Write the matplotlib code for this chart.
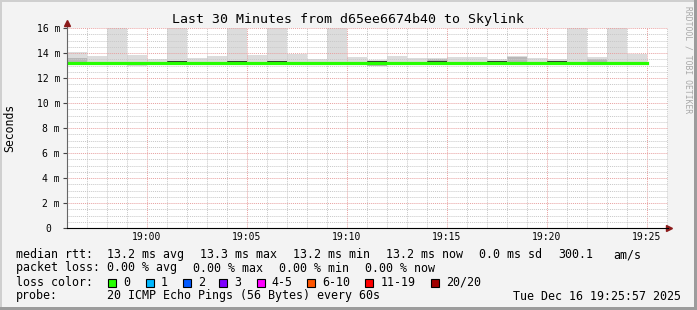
import matplotlib
matplotlib.use("Agg")
import matplotlib.pyplot as plt
from matplotlib.patches import Rectangle
from matplotlib.transforms import ScaledTranslation

# minutes relative to 19:00, one smoke bar per minute
minutes = list(range(-4, 25))
smoke_max = [14.05, 13.75, 16.9, 13.85, 13.55, 17.0, 13.6, 13.75, 16.5, 13.85,
             16.8, 13.95, 13.5, 16.6, 13.65, 13.45, 13.75, 13.6, 13.6, 13.65,
             13.65, 13.5, 13.75, 13.6, 13.5, 16.7, 13.65, 16.4, 13.9]
smoke_min = [13.1, 13.1, 13.1, 13.0, 13.1, 13.1, 13.1, 13.1, 13.05, 13.1,
             13.1, 13.1, 13.1, 13.1, 13.1, 13.0, 13.1, 13.05, 13.1, 13.1,
             13.1, 13.1, 13.05, 13.1, 13.1, 13.05, 13.1, 13.1, 13.1]
dense_lo = [13.25, 13.15, 13.15, 13.1, 13.15, 13.15, 13.15, 13.15, 13.1, 13.15,
            13.15, 13.15, 13.15, 13.15, 13.15, 13.0, 13.15, 13.1, 13.25, 13.15,
            13.15, 13.15, 13.25, 13.15, 13.15, 13.1, 13.3, 13.15, 13.15]
dense_hi = [13.62, 13.3, 13.3, 13.3, 13.3, 13.3, 13.3, 13.3, 13.3, 13.3,
            13.3, 13.3, 13.3, 13.3, 13.3, 13.3, 13.3, 13.3, 13.55, 13.3,
            13.3, 13.3, 13.7, 13.3, 13.3, 13.3, 13.5, 13.3, 13.3]
dark_bars = [5, 8, 10, 15, 18, 21, 24]
median = [13.2] * 29

loss_labels = ["0", "1", "2", "3", "4-5", "6-10", "11-19", "20/20"]
loss_colors = ["#26ff00", "#00b8ff", "#0059ff", "#7e00ff", "#ff00ff",
               "#ff5500", "#ff0000", "#a00000"]
time_ticks = [0, 5, 10, 15, 20, 25]
time_labels = ["19:00", "19:05", "19:10", "19:15", "19:20", "19:25"]
y_ticks = [0, 2, 4, 6, 8, 10, 12, 14, 16]
y_labels = ["0", "2 m", "4 m", "6 m", "8 m", "10 m", "12 m", "14 m", "16 m"]

W, H = 697, 310
def fx(px): return px / W
def fy(py): return 1 - py / H

mono = "DejaVu Sans Mono"
fig = plt.figure(figsize=(W / 100, H / 100), dpi=100, facecolor="#f3f3f3")
ax = fig.add_axes([fx(67), fy(228), (668 - 67) / W, 200 / H])
ax.set_facecolor("white")

edges = minutes + [minutes[-1] + 1]
ax.fill_between(edges, smoke_min + smoke_min[-1:], smoke_max + smoke_max[-1:],
                step="post", color="#dcdcdc", lw=0)
ax.fill_between(edges, dense_lo + dense_lo[-1:], dense_hi + dense_hi[-1:],
                step="post", color="#b8b8b8", lw=0)
for i in dark_bars:
    ax.fill_between([minutes[i], minutes[i] + 1], [13.27, 13.27], [13.36, 13.36],
                    color="#303030", lw=0)
ax.step(edges, median + median[-1:], where="post", color=loss_colors[0], lw=2.3)

ax.set_xlim(-4, 26.05)
ax.set_ylim(0, 16)
ax.set_xticks(time_ticks)
ax.set_xticklabels(time_labels, fontfamily=mono, fontsize=7)
ax.set_xticks(range(-4, 27), minor=True)
ax.set_yticks(y_ticks)
ax.set_yticklabels(y_labels, fontfamily=mono, fontsize=7)
ax.set_yticks([v * 0.5 for v in range(33)], minor=True)
ax.tick_params(axis="x", which="both", length=0, pad=3)
ax.tick_params(axis="y", which="major", length=3, width=0.8, pad=2, color="#444")
ax.tick_params(axis="y", which="minor", length=0)
ax.yaxis.get_majorticklabels()[0].set_transform(
    ax.yaxis.get_majorticklabels()[0].get_transform()
    + ScaledTranslation(-0.09, 0, fig.dpi_scale_trans))

ax.set_axisbelow("line")
ax.grid(which="minor", color="#c8c8c8", ls=(0, (1, 1)), lw=0.7)
ax.grid(which="major", color="#e8a0a0", ls=(0, (1, 1)), lw=0.7)
for s in ["top", "right"]:
    ax.spines[s].set_visible(False)
ax.spines["left"].set_color("#666")
ax.spines["bottom"].set_color("black")
ax.plot([0, 0], [1, 1.025], transform=ax.transAxes, color="#666", lw=0.8, clip_on=False)
ax.plot([0], [1.025], marker="^", ms=4, color="#8b1a1a", transform=ax.transAxes, clip_on=False)
ax.plot([1.002], [0], marker=">", ms=4, color="#8b1a1a", transform=ax.transAxes, clip_on=False)

fig.text(fx(348), fy(19), "Last 30 Minutes from d65ee6674b40 to Skylink",
         ha="center", va="center", fontfamily=mono, fontsize=9.5)
fig.text(fx(10), fy(128), "Seconds", rotation=90, ha="center", va="center",
         fontfamily=mono, fontsize=8.3)
fig.text(fx(688), fy(60), "RRDTOOL / TOBI OETIKER", rotation=-90, ha="center",
         va="center", fontfamily=mono, fontsize=5.8, color="#a8a8a8")

fs = 8.4
rows = [
    (254.7, [(16, "median rtt:"), (107, "13.2 ms avg"), (200, "13.3 ms max"),
             (293, "13.2 ms min"), (386, "13.2 ms now"), (479, "0.0 ms sd"),
             (558, "300.1"), (613, "am/s")]),
    (268, [(16, "packet loss:"), (107, "0.00 % avg"), (193, "0.00 % max"),
           (279, "0.00 % min"), (365, "0.00 % now")]),
    (282.3, [(16, "loss color:")]),
    (296, [(16, "probe:"), (107, "20 ICMP Echo Pings (56 Bytes) every 60s"),
           (513, "Tue Dec 16 19:25:57 2025")]),
]
for y, items in rows:
    for x, s in items:
        fig.text(fx(x), fy(y), s, ha="left", va="center", fontfamily=mono, fontsize=fs)

sq_x = [108, 145.7, 182.7, 219.3, 256.7, 307.3, 365.3, 430.7]
for x, lab, c in zip(sq_x, loss_labels, loss_colors):
    fig.patches.append(Rectangle((fx(x), fy(286.5)), 8 / W, 8 / H, transform=fig.transFigure,
                                 facecolor=c, edgecolor="black", lw=0.8))
    fig.text(fx(x + 15), fy(282.3), lab, ha="left", va="center", fontfamily=mono, fontsize=fs)

# 3d frame
fig.patches.append(Rectangle((0, 1 - 2 / H), 1, 2 / H, transform=fig.transFigure, color="#cfcfcf", lw=0))
fig.patches.append(Rectangle((0, 0), 2 / W, 1, transform=fig.transFigure, color="#cfcfcf", lw=0))
fig.patches.append(Rectangle((0, 0), 1, 3 / H, transform=fig.transFigure, color="#9c9c9c", lw=0))
fig.patches.append(Rectangle((1 - 3 / W, 0), 3 / W, 1, transform=fig.transFigure, color="#9c9c9c", lw=0))

fig.savefig("out.png", dpi=100, facecolor=fig.get_facecolor())
